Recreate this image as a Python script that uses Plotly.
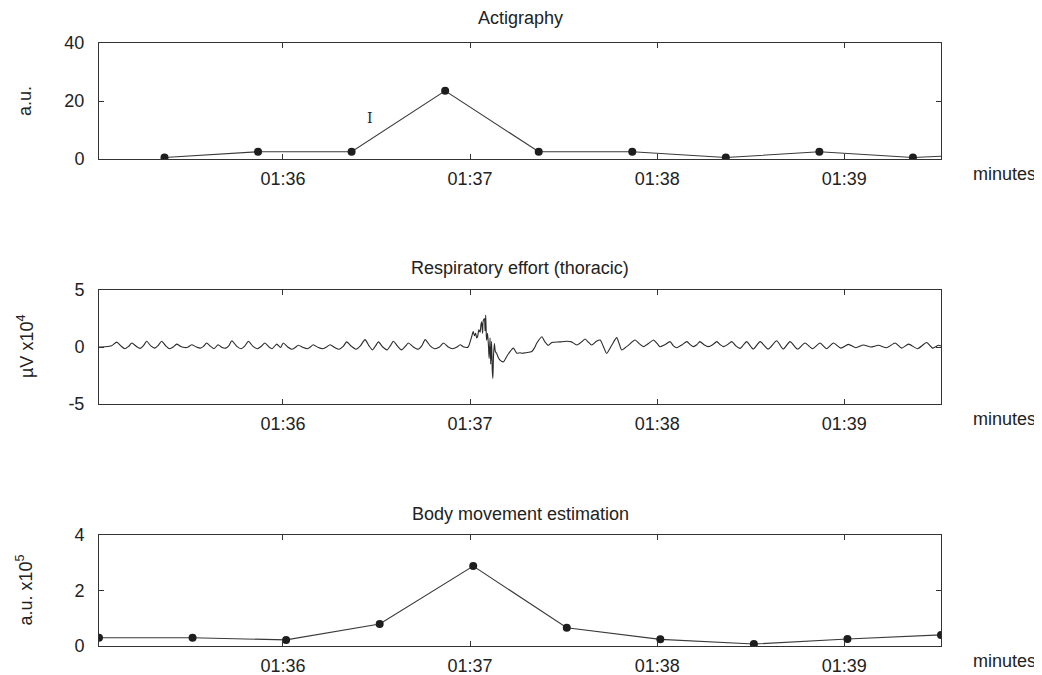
import pandas as pd
import plotly.graph_objects as go

BASE = "2000-01-01 "
X_START, X_END = "01:35:01", "01:39:31"
TICK_TIMES = ["01:36:00", "01:37:00", "01:38:00", "01:39:00"]
TICK_LABELS = ["01:36", "01:37", "01:38", "01:39"]

# Actigraphy (a.u.)
acti_times = ["01:35:22", "01:35:52", "01:36:22", "01:36:52", "01:37:22",
              "01:37:52", "01:38:22", "01:38:52", "01:39:22", "01:39:52"]
acti_vals = [0.5, 2.5, 2.5, 23.5, 2.5, 2.5, 0.5, 2.5, 0.5, 2.0]

# Body movement estimation (a.u. x10^5)
body_times = ["01:35:01", "01:35:31", "01:36:01", "01:36:31", "01:37:01",
              "01:37:31", "01:38:01", "01:38:31", "01:39:01", "01:39:31"]
body_vals = [0.3, 0.3, 0.22, 0.79, 2.88, 0.66, 0.24, 0.07, 0.25, 0.4]

# Respiratory effort (thoracic), seconds after 01:35:01, µV x10^4
resp_sec = [0, 2.0, 4.0, 5.7, 7.0, 8.3, 9.5, 10.5, 12.0, 13.2, 14.2, 15.3, 16.6, 17.9, 19.0, 20.1,
            21.4, 22.6, 23.8, 24.9, 26.2, 27.5, 28.6, 29.7, 31.2, 32.5, 33.5, 34.5, 35.8, 36.9,
            38.2, 39.5, 40.6, 41.6, 42.6, 44.2, 45.6, 46.8, 47.9, 49.4, 50.8, 52.0, 53.2, 54.5,
            55.5, 57.0, 58.2,
            59.1, 60.5, 61.8, 62.9, 63.9, 65.5, 66.8, 67.8, 68.7, 70.3, 71.8, 73.0, 74.1, 75.6,
            77.0, 78.3, 79.4, 81.0, 82.4, 83.8, 85.3, 86.6, 87.7, 88.7, 89.6, 91.0, 92.4, 93.4,
            94.4, 95.8, 97.0, 98.2, 99.2, 100.8, 102.3, 103.5, 104.6, 106.2, 107.6, 109.2, 110.5,
            112.0, 113.4, 114.8, 115.8, 117.0, 118.4,
            119.0, 119.5, 120.0, 120.4, 120.8, 121.1, 121.4, 121.8, 122.2, 122.5, 122.7, 123.0,
            123.2, 123.6, 123.8, 124.0, 124.2, 124.3, 124.6, 124.9, 125.1, 125.4, 125.6, 125.9,
            126.1, 126.3, 126.5, 126.8, 127.1, 127.5, 128.0, 128.6, 129.7, 130.7, 131.8, 132.4,
            132.9, 134.0, 135.0, 135.6, 137.0, 138.8, 139.6, 140.4, 142.0, 143.0, 144.1, 145.2,
            147.8, 150.0,
            151.5, 153.2, 155.0, 155.9, 157.0, 158.0, 159.5, 160.7, 161.8, 162.8, 164.5, 166.0,
            166.8, 167.6, 169.5, 171.9, 173.2, 174.6, 176.2, 177.8, 179.0, 179.9, 181.5, 183.1,
            184.2, 185.3, 187.0, 188.5, 189.6, 190.6, 191.7, 192.7, 194.0, 195.4, 196.8, 198.1,
            199.2, 200.2, 201.5, 202.9, 204.2, 205.6, 206.7, 207.7,
            209.8, 212.0, 214.6, 217.3, 219.4, 221.6, 224.0, 226.4, 228.8, 231.2, 233.3, 235.5,
            237.9, 240.3, 242.7, 245.1, 247.5, 249.9, 252.6, 255.3, 257.4, 259.6, 262.5, 265.4,
            267.3, 269.2, 270.0]
resp_vals = [0.0, 0.02, 0.1, 0.43, 0.1, -0.15, 0.05, 0.35, 0.05, -0.12, 0.1, 0.5, 0.1, -0.1, 0.15, 0.5,
             0.1, -0.15, 0.0, 0.25, 0.05, -0.05, 0.0, 0.2, 0.0, -0.1, 0.05, 0.35, 0.05, -0.15,
             0.2, -0.05, -0.1, 0.1, 0.55, 0.05, -0.15, 0.1, 0.5, 0.05, -0.15, 0.05, 0.35, 0.0,
             -0.15, 0.25, -0.05,
             0.35, 0.0, -0.2, -0.05, 0.15, -0.05, -0.15, 0.0, 0.2, -0.05, -0.15, 0.0, 0.2, -0.05,
             -0.2, 0.05, 0.45, 0.05, -0.2, 0.1, 0.65, 0.1, -0.25, 0.1, 0.45, 0.0, -0.25, 0.1,
             0.5, 0.05, -0.25, 0.05, 0.35, 0.0, -0.2, 0.1, 0.65, 0.1, -0.15, 0.0, 0.35,
             0.0, -0.15, 0.0, 0.2, 0.0, 0.0,
             0.45, 0.9, 1.35, 1.0, 1.2, 0.8, 0.9, 1.5, 1.3, 2.0, 2.2, 1.2,
             2.3, 2.5, 1.4, 2.8, 1.0, 0.6, 1.2, 0.0, -1.0, 0.8, -1.5, 0.5,
             -2.0, -2.75, -0.8, 0.3, -0.4, -0.55, -0.9, -1.15, -1.3, -0.85, -0.4, -0.2,
             -0.1, -0.55, -0.5, -0.55, -0.5, -0.4, -0.1, 0.35, 0.9, 0.45, 0.15, 0.4,
             0.45, 0.5,
             0.45, 0.18, 0.5, 0.7, 0.4, 0.18, 0.5, 0.61, 0.0, -0.56, 0.2, 0.82,
             0.3, -0.26, 0.1, 0.61, 0.3, 0.03, 0.3, 0.61, 0.3, 0.03, 0.2, 0.47,
             0.1, -0.06, 0.2, 0.47, 0.2, 0.03, 0.2, 0.47, 0.2, 0.03, 0.2, 0.47,
             0.2, 0.03, 0.2, 0.47, 0.1, -0.12, 0.2, 0.47,
             -0.18, 0.47, -0.18, 0.55, -0.18, 0.47, -0.18, 0.35, -0.15, 0.35, -0.15, 0.35,
             -0.1, 0.23, -0.06, 0.18, 0.0, 0.15, -0.06, 0.35, -0.1, 0.25, -0.15, 0.4,
             -0.1, 0.15, 0.1]

titles = ["Actigraphy", "Respiratory effort (thoracic)", "Body movement estimation"]
ylabels = ["a.u.", "µV x10<sup>4</sup>", "a.u. x10<sup>5</sup>"]
yranges = [[0, 40], [-5, 5], [0, 4]]
yticks = [[0, 20, 40], [-5, 0, 5], [0, 2, 4]]
yticklabels = [["0", "20", "40"], ["-5", "0", "5"], ["0", "2", "4"]]


def ts(t):
    return pd.Timestamp(BASE + t)


resp_x = [ts(X_START) + pd.Timedelta(seconds=s) for s in resp_sec]

# page body adds an 8px margin; lay out in viewport pixels minus that offset
OFF = 8
W, H = 1042 - OFF, 675 - OFF


def px(x):
    return (x - OFF) / W


def py(y):
    return 1 - (y - OFF) / H


x_dom = [px(99), px(941)]
boxes = [(43, 159), (290, 404), (535, 646)]  # viewport pixel top/bottom
ydoms = [[py(b), py(t)] for t, b in boxes]

fig = go.Figure()
LINE = "#3a3a3a"
MARK = "#1e1e1e"

fig.add_trace(go.Scatter(x=[ts(t) for t in acti_times], y=acti_vals, mode="lines+markers",
                         line=dict(color=LINE, width=1.1), marker=dict(color=MARK, size=8),
                         xaxis="x", yaxis="y"))
fig.add_trace(go.Scatter(x=resp_x, y=resp_vals, mode="lines",
                         line=dict(color="#2a2a2a", width=1.1, shape="spline", smoothing=0.6),
                         xaxis="x2", yaxis="y2"))
fig.add_trace(go.Scatter(x=[ts(t) for t in body_times], y=body_vals, mode="lines+markers",
                         line=dict(color=LINE, width=1.1), marker=dict(color=MARK, size=8),
                         xaxis="x3", yaxis="y3"))

FONT = "Liberation Sans, Arial, sans-serif"
axcommon = dict(showline=True, linecolor="#333", linewidth=1, mirror="allticks",
                ticks="inside", ticklen=5, tickcolor="#333", showgrid=False, zeroline=False,
                automargin=False, tickfont=dict(family=FONT, size=18, color="#222"))

layout = dict(width=W, height=H, margin=dict(l=0, r=0, t=0, b=0, pad=0), autosize=False,
              template="none",
              paper_bgcolor="white", plot_bgcolor="white", showlegend=False,
              font=dict(family=FONT, color="#222"))
names = ["", "2", "3"]
for i in range(3):
    layout["xaxis" + names[i]] = dict(
        domain=x_dom, anchor="y" + names[i], type="date",
        range=[ts(X_START), ts(X_END)],
        tickvals=[ts(t) for t in TICK_TIMES], ticktext=TICK_LABELS,
        ticklabelstandoff=3, **axcommon)
    layout["yaxis" + names[i]] = dict(
        domain=ydoms[i], anchor="x" + names[i], range=yranges[i],
        tickvals=yticks[i], ticktext=yticklabels[i], ticklabelstandoff=10, **axcommon)
fig.update_layout(**layout)

ann = []
title_y = [18, 268, 514]
for i in range(3):
    ann.append(dict(text=titles[i], x=px(520), y=py(title_y[i]), xref="paper", yref="paper",
                    showarrow=False, xanchor="center", yanchor="middle",
                    font=dict(family=FONT, size=18, color="#222")))
    t, b = boxes[i]
    ann.append(dict(text=ylabels[i], x=px(25), y=py((t + b) / 2), xref="paper", yref="paper",
                    showarrow=False, textangle=-90, xanchor="center", yanchor="middle",
                    font=dict(family=FONT, size=18, color="#222")))
    ann.append(dict(text="minutes", x=px(1004), y=py(b + 15), xref="paper", yref="paper",
                    showarrow=False, xanchor="center", yanchor="middle",
                    font=dict(family=FONT, size=18, color="#222")))
# text cursor glyph seen in the source image
ann.append(dict(text="I", x=px(370), y=py(108), xref="paper", yref="paper", showarrow=False,
                font=dict(family="DejaVu Serif, serif", size=14, color="#222")))
fig.update_layout(annotations=ann)

fig.write_html("out.html")
